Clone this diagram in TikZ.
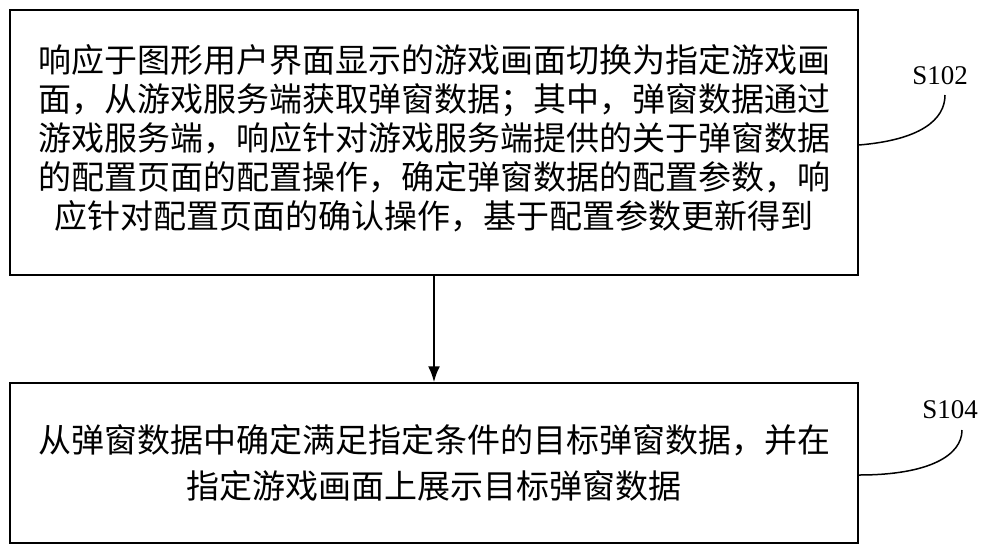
\documentclass[tikz,border=0pt]{standalone}
\usepackage{fontspec}
\usetikzlibrary{arrows.meta}
\newfontfamily\cjk{Noto Sans CJK SC}
\setmainfont{Liberation Serif}
\begin{document}
\begin{tikzpicture}[x=1pt,y=-1pt,
  stepbox/.style={draw,line width=1.5pt,minimum width=848pt,inner sep=0pt},
  txt/.style={font=\cjk\fontsize{33}{39}\selectfont,align=center},
  lab/.style={font=\fontsize{27}{30}\selectfont}]
\useasboundingbox (0,0) rectangle (1000,554);
\node[stepbox,minimum height=265pt] (b1) at (434,142.5) {};
\node[txt] (t1) at (434,138) {响应于图形用户界面显示的游戏画面切换为指定游戏画\\面，从游戏服务端获取弹窗数据；其中，弹窗数据通过\\游戏服务端，响应针对游戏服务端提供的关于弹窗数据\\的配置页面的配置操作，确定弹窗数据的配置参数，响\\应针对配置页面的确认操作，基于配置参数更新得到};
\node[stepbox,minimum height=160pt] (b2) at (434,463) {};
\node[txt,font=\cjk\fontsize{33}{46}\selectfont] (t2) at (434,463) {从弹窗数据中确定满足指定条件的目标弹窗数据，并在\\指定游戏画面上展示目标弹窗数据};
\draw[line width=2pt,-{Latex[length=16pt,width=12pt]}] (b1.south) -- (b2.north);
\node[lab] (l1) at (940,76) {S102};
\node[lab] (l2) at (950,410) {S104};
\coordinate (c1) at (b1.east|-0,145);
\coordinate (c2) at (b2.east|-0,475);
\draw[line width=1.5pt] (c1) .. controls (920,140) and (945,120) .. (945,95);
\draw[line width=1.5pt] (c2) .. controls (930,475) and (962,455) .. (962,430);
\end{tikzpicture}
\end{document}
